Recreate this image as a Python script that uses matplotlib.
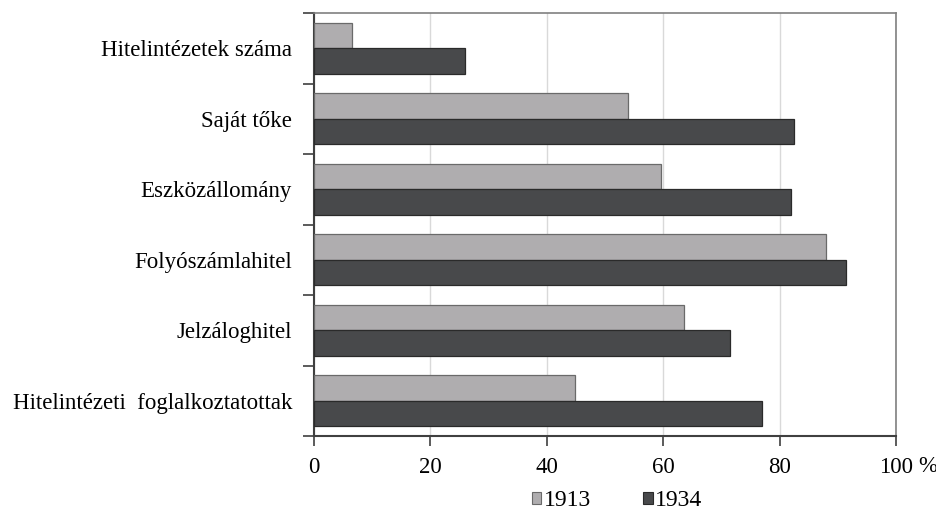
import matplotlib
matplotlib.use("Agg")
import matplotlib.pyplot as plt
import numpy as np
from matplotlib.patches import Patch

# kategóriák felülről lefelé, értékek százalékban
kategoriak = [
    "Hitelintézetek száma",
    "Saját tőke",
    "Eszközállomány",
    "Folyószámlahitel",
    "Jelzáloghitel",
    "Hitelintézeti  foglalkoztatottak",
]
ertek_1913 = [6.5, 53.9, 59.7, 88.0, 63.5, 44.9]
ertek_1934 = [25.9, 82.4, 82.0, 91.4, 71.4, 77.0]
x_tickek = [0, 20, 40, 60, 80, 100]
evek = ["1913", "1934"]

VILAGOS = "#afadaf"
SOTET = "#48494b"

plt.rcParams["font.family"] = ["Liberation Serif", "DejaVu Serif"]
plt.rcParams["font.size"] = 16.5

fig = plt.figure(figsize=(9.36, 5.13), dpi=100)
ax = fig.add_axes([314 / 936, 77 / 513, 582 / 936, 423 / 513])

y = np.arange(len(kategoriak))
h = 0.36
ax.barh(y - h / 2, ertek_1913, height=h, color=VILAGOS, edgecolor="#6a6a6a",
        linewidth=0.9, zorder=3)
ax.barh(y + h / 2, ertek_1934, height=h, color=SOTET, edgecolor="#2a2a2a",
        linewidth=0.9, zorder=3)

ax.set_ylim(len(kategoriak) - 0.5, -0.5)
ax.set_xlim(0, 100)

ax.set_yticks(y)
ax.set_yticklabels(kategoriak)
ax.set_yticks(np.arange(len(kategoriak) + 1) - 0.5, minor=True)
ax.tick_params(axis="y", which="major", length=0, pad=15.8)
ax.tick_params(axis="y", which="minor", length=8, width=1.2, color="#404040")

ax.set_xticks(x_tickek)
ax.set_xticklabels([str(v) for v in x_tickek])
ax.tick_params(axis="x", length=7, width=1.2, color="#404040", pad=8)
# a "%" jel a 100 után
ax.text(103.8, -0.072, "%", transform=ax.get_xaxis_transform(), ha="left",
        va="center", fontsize=16.5)

ax.grid(axis="x", color="#d9d9d9", linewidth=1.0, zorder=0)
for s in ("left", "bottom"):
    ax.spines[s].set_color("#404040")
    ax.spines[s].set_linewidth(1.5)
for s in ("top", "right"):
    ax.spines[s].set_color("#808080")
    ax.spines[s].set_linewidth(1.2)

kezelok = [Patch(facecolor=VILAGOS, edgecolor="#6a6a6a", linewidth=0.8),
           Patch(facecolor=SOTET, edgecolor="#2a2a2a", linewidth=0.8)]
fig.legend(kezelok, evek, loc="center", bbox_to_anchor=(617 / 936, 12 / 513),
           ncol=2, frameon=False, handlelength=0.42, handleheight=0.42,
           handletextpad=0.1, columnspacing=2.2, borderpad=0,
           prop={"size": 17})

fig.savefig("out.png", dpi=100)
